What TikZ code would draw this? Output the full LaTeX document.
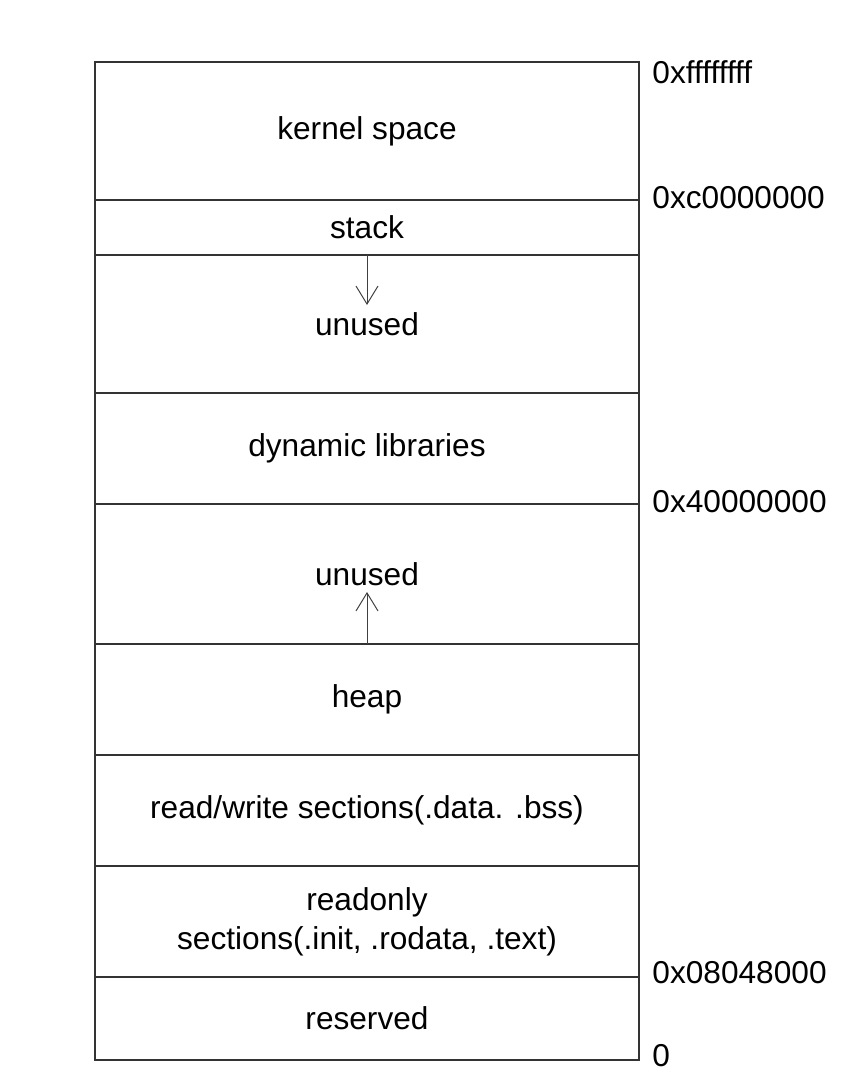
\documentclass[tikz,border=0pt]{standalone}
\usepackage{fontspec}
\setmainfont{Liberation Sans}
\usetikzlibrary{arrows.meta,positioning}

\begin{document}
\begin{tikzpicture}[>={Straight Barb[length=4.5mm,width=5.5mm]},
  seg/.style={draw=black!80,line width=0.8pt,minimum width=13.6cm,
    outer sep=0pt,inner sep=0pt,align=center,
    font=\fontsize{22.5}{27.7}\selectfont},
  addr/.style={anchor=west,inner sep=0pt,xshift=3.3mm,
    font=\fontsize{22.5}{27}\selectfont},
  growarrow/.style={->,black!75,line width=0.7pt}]
  \useasboundingbox (0,0) rectangle (21.6,26.9);
  % memory segments, from high addresses down
  \node[seg,minimum height=3.45cm,anchor=north] (kernel) at (9.175,25.35) {kernel space};
  \node[seg,minimum height=1.375cm,below=0pt of kernel] (stack) {stack};
  \node[seg,minimum height=3.45cm,below=0pt of stack] (unusedhi) {unused};
  \node[seg,minimum height=2.775cm,below=0pt of unusedhi] (dynlib) {dynamic libraries};
  \node[seg,minimum height=3.5cm,below=0pt of dynlib] (unusedlo) {unused};
  \node[seg,minimum height=2.775cm,below=0pt of unusedlo] (heap) {heap};
  \node[seg,minimum height=2.775cm,below=0pt of heap] (rwdata) {read/write sections(.data. .bss)};
  \node[seg,minimum height=2.775cm,below=0pt of rwdata] (rodata) {readonly\\sections(.init, .rodata, .text)};
  \node[seg,minimum height=2.075cm,below=0pt of rodata] (reserved) {reserved};
  % growth directions
  \coordinate[below=1.25cm of unusedhi.north] (stacktip);
  \coordinate[above=1.3cm of unusedlo.south] (heaptip);
  \draw[growarrow] (unusedhi.north) -- (stacktip);
  \draw[growarrow] (unusedlo.south) -- (heaptip);
  % addresses
  \node[addr,yshift=-2.5mm] (atop) at (kernel.north east) {0xffffffff};
  \node[addr,yshift=0.5mm] (akernel) at (kernel.south east) {0xc0000000};
  \node[addr,yshift=0.5mm] (adyn) at (dynlib.south east) {0x40000000};
  \node[addr,yshift=1mm] (atext) at (rodata.south east) {0x08048000};
  \node[addr,yshift=1mm] (azero) at (reserved.south east) {0};
\end{tikzpicture}
\end{document}
